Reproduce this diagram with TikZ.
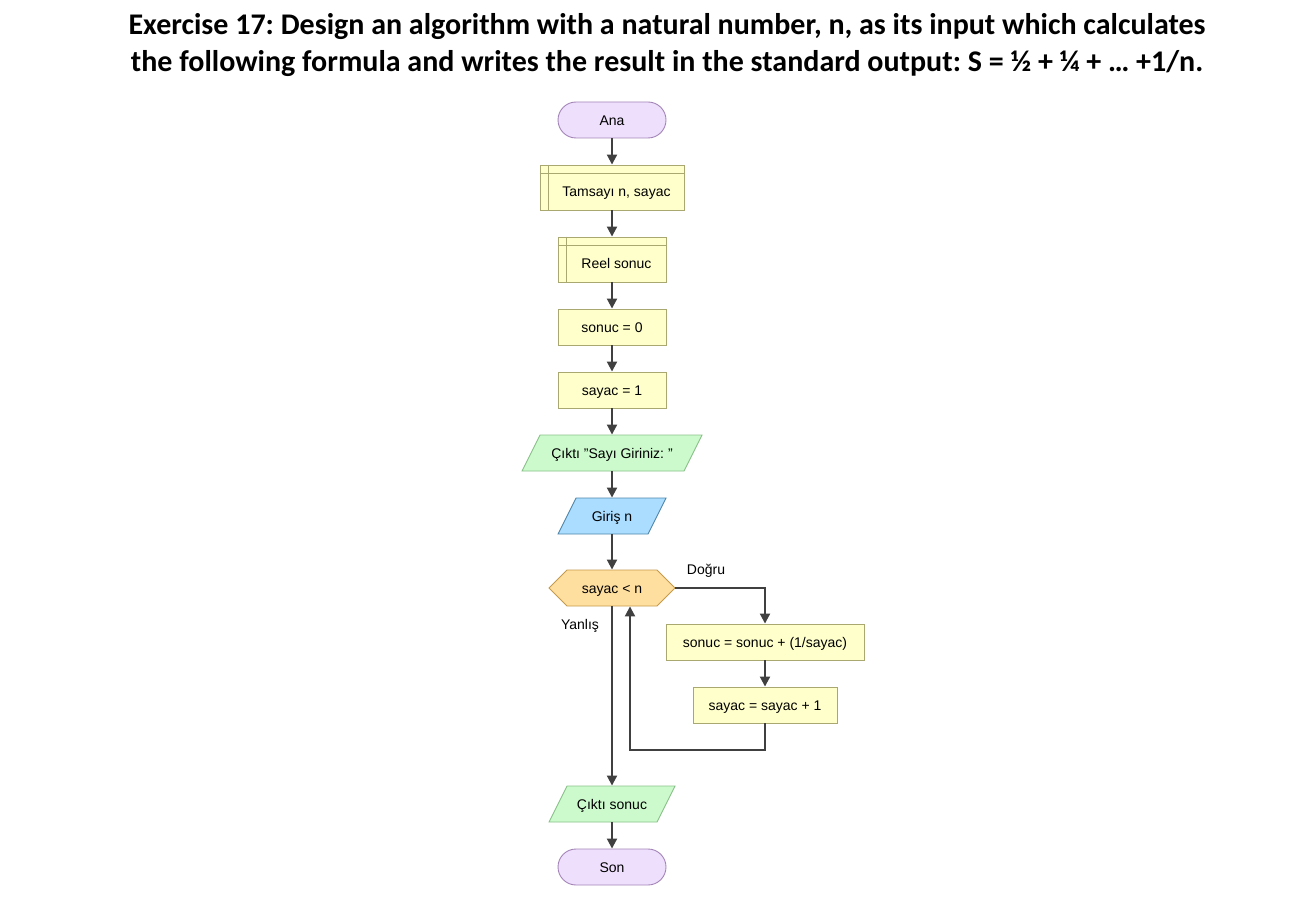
\documentclass[tikz,border=0pt]{standalone}
\usepackage{fontspec}
\setmainfont{Liberation Sans}
\newfontfamily\calib{Carlito}
\usetikzlibrary{arrows.meta}
\definecolor{termfill}{HTML}{EEDFFC}
\definecolor{termline}{HTML}{A485B8}
\definecolor{procfill}{HTML}{FFFFCC}
\definecolor{procline}{HTML}{A8A870}
\definecolor{outfill}{HTML}{CCFACC}
\definecolor{outline}{HTML}{88C088}
\definecolor{infill}{HTML}{AADDFF}
\definecolor{inline}{HTML}{4F86AA}
\definecolor{decfill}{HTML}{FFDF9F}
\definecolor{decline}{HTML}{C49A4C}
\definecolor{arrcol}{HTML}{404040}
\tikzset{
  base/.style={font=\fontsize{14}{16}\selectfont, inner sep=0pt, line width=0.9pt, text height=11pt, text depth=0pt},
  term/.style={base, draw=termline, fill=termfill, rounded corners=18pt, minimum width=108pt, minimum height=36pt},
  proc/.style={base, draw=procline, fill=procfill, minimum height=36pt},
  decl/.style={base, draw=procline, fill=procfill, minimum height=45pt},
  declline/.style={draw=procline, line width=0.9pt},
  shapeonly/.style={base, minimum height=36pt},
  outshape/.style={draw=outline, fill=outfill, line width=0.9pt},
  inshape/.style={draw=inline, fill=infill, line width=0.9pt},
  decshape/.style={draw=decline, fill=decfill, line width=0.9pt},
  arr/.style={draw=arrcol, line width=2pt, -{Triangle[length=10pt,width=10pt]}},
  lbl/.style={font=\fontsize{14}{16}\selectfont, inner sep=0pt}
}
\begin{document}
\frenchspacing
\begin{tikzpicture}[x=1pt,y=-1pt]
\useasboundingbox (0,0) rectangle (1302,901);
% title
\node[align=center, font=\calib\bfseries\fontsize{30}{37}\selectfont, inner sep=0pt] (title) at (667,45)
  {Exercise 17: Design an algorithm with a natural number, n, as its input which calculates\\
   the following formula and writes the result in the standard output: S = ½ + ¼ + … +1/n.};

% start
\node[term] (ana) at (612,120) {Ana};
% declarations
\node[decl, minimum width=144pt] (d1) at (612,187.5) {\raisebox{-4pt}{\hspace*{9pt}Tamsayı n, sayac}};
\draw[declline] ([xshift=9pt]d1.north west) -- ([xshift=9pt]d1.south west);
\draw[declline] ([yshift=-9pt]d1.north west) -- ([yshift=-9pt]d1.north east);
\node[decl, minimum width=108pt] (d2) at (612,259.5) {\raisebox{-4pt}{\hspace*{9pt}Reel sonuc}};
\draw[declline] ([xshift=9pt]d2.north west) -- ([xshift=9pt]d2.south west);
\draw[declline] ([yshift=-9pt]d2.north west) -- ([yshift=-9pt]d2.north east);
% assignments
\node[proc, minimum width=108pt] (s0) at (612,327) {sonuc = 0};
\node[proc, minimum width=108pt] (s1) at (612,390) {sayac = 1};
% output prompt
\filldraw[outshape] (522,471) -- (540,435) -- (702,435) -- (684,471) -- cycle;
\node[shapeonly, minimum width=180pt] (o1) at (612,453) {Çıktı "Sayı Giriniz: "};
% input
\filldraw[inshape] (558,534) -- (576,498) -- (666,498) -- (648,534) -- cycle;
\node[shapeonly, minimum width=108pt] (i1) at (612,516) {Giriş n};
% decision
\filldraw[decshape] (549,588) -- (567,570) -- (657,570) -- (675,588) -- (657,606) -- (567,606) -- cycle;
\node[shapeonly, minimum width=126pt] (dec) at (612,588) {sayac < n};
% loop body
\node[proc, minimum width=198pt] (p1) at (765,642) {sonuc = sonuc + (1/sayac)};
\node[proc, minimum width=144pt] (p2) at (765,705) {sayac = sayac + 1};
% output result
\filldraw[outshape] (549,822) -- (567,786) -- (675,786) -- (657,822) -- cycle;
\node[shapeonly, minimum width=126pt] (o2) at (612,804) {Çıktı sonuc};
% end
\node[term] (son) at (612,867) {Son};
% labels
\node[lbl] (dogru) at (706,571) {Doğru};
\node[lbl] (yanlis) at (580,626) {Yanlış};

% connectors
\draw[arr] (ana.south) -- (d1.north);
\draw[arr] (d1.south) -- (d2.north);
\draw[arr] (d2.south) -- (s0.north);
\draw[arr] (s0.south) -- (s1.north);
\draw[arr] (s1.south) -- (o1.north);
\draw[arr] (o1.south) -- (i1.north);
\draw[arr] (i1.south) -- (dec.north);
\draw[arr] (dec.east) -| (p1.north);
\draw[arr] (p1.south) -- (p2.north);
\draw[arr] (p2.south) -- ++(0,27) -| ([xshift=18pt]dec.south);
\draw[arr] (dec.south) -- (o2.north);
\draw[arr] (o2.south) -- (son.north);
\end{tikzpicture}
\end{document}
